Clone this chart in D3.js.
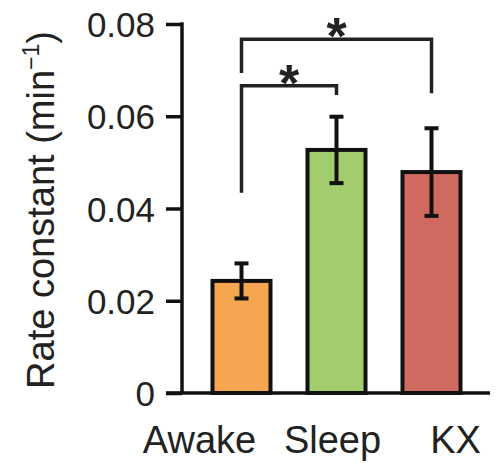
<!DOCTYPE html>
<html><head><meta charset="utf-8">
<script src="https://cdn.jsdelivr.net/npm/d3@7"></script>
<style>body{margin:0;background:#fff;} text{font-family:"Liberation Sans",Arial,sans-serif;fill:#222;}</style>
</head><body>
<svg id="chart" width="500" height="463"></svg>
<script>
const categories = ["Awake", "Sleep", "KX"];
const rateValues = [0.0243, 0.0527, 0.0479];
const rateErrors = [0.0038, 0.0072, 0.0095];
const barColors = ["#F6A550", "#A3CC6C", "#D06A60"];
const yTicks = [0, 0.02, 0.04, 0.06, 0.08];
const yTickLabels = ["0", "0.02", "0.04", "0.06", "0.08"];
// significance comparisons: [from, to, bar level, left leg end, right leg end]
const sigFrom = ["Awake", "Awake"];
const sigTo = ["Sleep", "KX"];
const sigLevel = [0.0666, 0.0767];
const sigLeftEnd = [0.0434, 0.0694];
const sigRightEnd = [0.0646, 0.0650];
const sigMark = ["*", "*"];

const svg = d3.select("#chart");
const x = d3.scalePoint().domain(categories).range([241.5, 431.5]);
const y = d3.scaleLinear().domain([0, 0.08]).range([393, 24]);
const barW = 58;
const labelShift = [-42, -4, 24];

// bars
svg.append("g").selectAll("rect").data(categories).join("rect")
  .attr("x", d => x(d) - barW / 2)
  .attr("width", barW)
  .attr("y", (d, i) => y(rateValues[i]))
  .attr("height", (d, i) => y(0) - y(rateValues[i]))
  .attr("fill", (d, i) => barColors[i])
  .attr("stroke", "#111").attr("stroke-width", 4);

// error bars
const eb = svg.append("g").attr("stroke", "#111").attr("stroke-width", 4).attr("fill", "none");
categories.forEach((c, i) => {
  const cx = x(c), top = y(rateValues[i] + rateErrors[i]), bot = y(rateValues[i] - rateErrors[i]);
  eb.append("line").attr("x1", cx).attr("x2", cx).attr("y1", top).attr("y2", bot);
  eb.append("line").attr("x1", cx - 7).attr("x2", cx + 7).attr("y1", top).attr("y2", top);
  eb.append("line").attr("x1", cx - 7).attr("x2", cx + 7).attr("y1", bot).attr("y2", bot);
});

// y axis
const yAxis = d3.axisLeft(y).tickValues(yTicks).tickFormat((d, i) => yTickLabels[i]).tickSize(16).tickPadding(11);
const gy = svg.append("g").attr("transform", "translate(182,0)").call(yAxis);
gy.select(".domain").remove();
gy.selectAll(".tick line").attr("stroke", "#111").attr("stroke-width", 3.5);
gy.selectAll(".tick text").attr("font-size", 35).attr("fill", "#222").attr("dy", "0.36em")
  .style("font-family", "'Liberation Sans', Arial, sans-serif");
gy.append("line").attr("x1", 0).attr("x2", 0).attr("y1", y(0.08) - 1.75).attr("y2", y(0))
  .attr("stroke", "#111").attr("stroke-width", 3.5);

// x baseline
svg.append("line").attr("x1", 166).attr("x2", 490).attr("y1", y(0)).attr("y2", y(0))
  .attr("stroke", "#111").attr("stroke-width", 3.5);

// x labels
svg.append("g").selectAll("text").data(categories).join("text")
  .attr("x", (d, i) => x(d) + labelShift[i]).attr("y", 453)
  .attr("text-anchor", "middle").attr("font-size", 38).text(d => d);

// y label
const yl = svg.append("text").attr("transform", "translate(54,210) rotate(-90)")
  .attr("text-anchor", "middle").attr("font-size", 38);
yl.append("tspan").text("Rate constant (min");
yl.append("tspan").attr("font-size", 23).attr("dy", -15).text("\u22121");
yl.append("tspan").attr("dy", 15).text(")");

// significance brackets
const sg = svg.append("g");
sigFrom.forEach((f, i) => {
  const x1 = x(f), x2 = x(sigTo[i]), yl0 = y(sigLevel[i]);
  sg.append("path")
    .attr("d", d3.line()([[x1, y(sigLeftEnd[i])], [x1, yl0], [x2, yl0], [x2, y(sigRightEnd[i])]]))
    .attr("fill", "none").attr("stroke", "#222").attr("stroke-width", 3.5);
  sg.append("text").attr("x", (x1 + x2) / 2).attr("y", yl0 + 15)
    .attr("text-anchor", "middle").attr("font-size", 52).attr("font-weight", "bold").text(sigMark[i]);
});
</script>
</body></html>
